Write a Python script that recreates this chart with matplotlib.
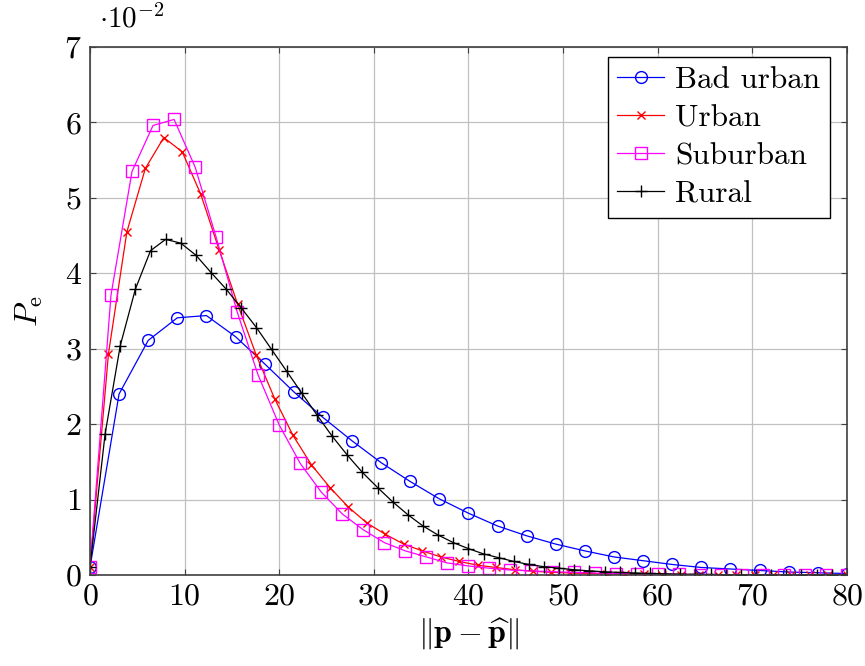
import numpy as np
import matplotlib
matplotlib.use("Agg")
import matplotlib.pyplot as plt

plt.rcParams['font.family'] = 'cmr10'
plt.rcParams['mathtext.fontset'] = 'cm'
plt.rcParams['axes.formatter.use_mathtext'] = True

# P_e values in units of 1e-2
bad_urban = [0.1, 2.40, 3.11, 3.41, 3.44, 3.16, 2.80, 2.43, 2.09, 1.78, 1.49,
             1.24, 1.01, 0.82, 0.65, 0.52, 0.41, 0.32, 0.24, 0.19, 0.14, 0.10,
             0.08, 0.06, 0.04, 0.03, 0.02]
urban = [0.1, 2.93, 4.55, 5.39, 5.80, 5.61, 5.05, 4.31, 3.59, 2.92, 2.34,
         1.85, 1.46, 1.16, 0.90, 0.69, 0.54, 0.41, 0.32, 0.24, 0.18, 0.13,
         0.10, 0.07, 0.05, 0.036, 0.027, 0.02, 0.015, 0.011, 0.008, 0.006,
         0.004, 0.003, 0.002, 0.0015, 0.001, 0.0008, 0.0006, 0.0004, 0.0003,
         0.0002]
suburban = [0.1, 3.71, 5.35, 5.96, 6.04, 5.41, 4.48, 3.49, 2.65, 1.99, 1.48,
            1.10, 0.81, 0.60, 0.43, 0.32, 0.24, 0.16, 0.12, 0.09, 0.066,
            0.054, 0.044, 0.035, 0.027, 0.02, 0.015, 0.011, 0.008, 0.006,
            0.004, 0.003, 0.002, 0.0015, 0.001, 0.0007, 0.0005]
rural = [0.1, 1.87, 3.04, 3.79, 4.30, 4.45, 4.40, 4.24, 4.01, 3.79, 3.54,
         3.28, 2.99, 2.70, 2.41, 2.12, 1.84, 1.59, 1.36, 1.16, 0.97, 0.80,
         0.65, 0.53, 0.43, 0.35, 0.28, 0.23, 0.18, 0.14, 0.11, 0.09, 0.07,
         0.055, 0.043, 0.034, 0.027, 0.021, 0.016, 0.012, 0.009, 0.007,
         0.005, 0.004, 0.003, 0.002, 0.0015, 0.001, 0.0008, 0.0006, 0.0004]

labels = ['Bad urban', 'Urban', 'Suburban', 'Rural']
colors = ['#0000ff', '#ff0000', '#ff00ff', '#000000']
markers = ['o', 'x', 's', '+']
msizes = [8.5, 6, 8.5, 9]
series = [bad_urban, urban, suburban, rural]

fig = plt.figure(figsize=(8.65, 6.66), dpi=100)
ax = fig.add_axes([0.104, 0.1366, 0.875, 0.7928])

for y, lab, c, m, ms in zip(series, labels, colors, markers, msizes):
    x = np.linspace(0, 80, len(y))  # samples equally spaced over [0, 80]
    ax.plot(x, y, color=c, marker=m, ms=ms, mfc='none', mec=c, mew=1.0,
            lw=0.9, label=lab)

ax.set_xlim(0, 80)
ax.set_ylim(0, 7)
ax.set_xticks(range(0, 81, 10))
ax.set_yticks(range(0, 8))
ax.grid(True, color='#c0c0c0', lw=0.9)
ax.set_axisbelow(True)
for s in ax.spines.values():
    s.set_color('#404040')
    s.set_linewidth(1.2)
ax.tick_params(direction='in', top=True, right=True, length=4, width=0.8,
               color='#404040', labelsize=23, pad=6)

ax.set_xlabel(r'$\|\mathbf{p}-\widehat{\mathbf{p}}\|$', fontsize=23, labelpad=4)
ax.set_ylabel(r'$P_{\mathrm{e}}$', fontsize=23, labelpad=14)
ax.text(0.012, 1.025, r'$\cdot10^{-2}$', transform=ax.transAxes,
        fontsize=21, ha='left', va='bottom')

leg = ax.legend(loc='upper right', bbox_to_anchor=(0.9775, 0.981),
                borderaxespad=0, fontsize=22.5, handlelength=1.5,
                handletextpad=0.35, labelspacing=0.32, borderpad=0.3,
                fancybox=False, framealpha=1, edgecolor='black')
leg.get_frame().set_linewidth(1.0)

fig.savefig('out.png', dpi=100)
